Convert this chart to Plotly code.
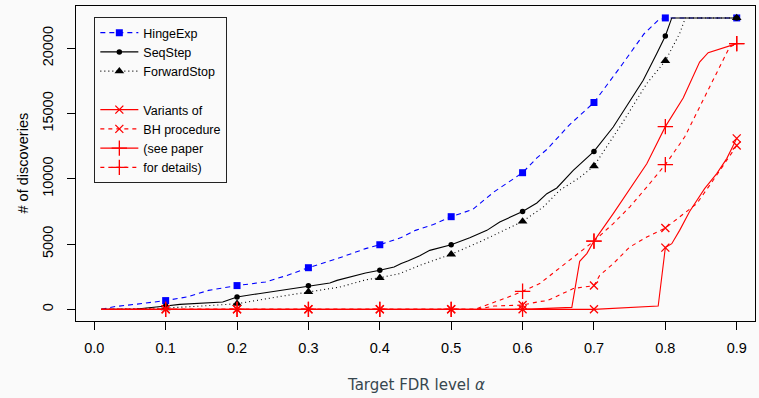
import plotly.graph_objects as go

# ---------------- data ----------------
marker_alphas = [0.1, 0.2, 0.3, 0.4, 0.5, 0.6, 0.7, 0.8, 0.9]
x_tick_vals = [0.0, 0.1, 0.2, 0.3, 0.4, 0.5, 0.6, 0.7, 0.8, 0.9]
x_tick_text = ["0.0", "0.1", "0.2", "0.3", "0.4", "0.5", "0.6", "0.7", "0.8", "0.9"]
y_tick_vals = [0, 5000, 10000, 15000, 20000]
y_tick_text = ["0", "5000", "10000", "15000", "20000"]

hinge_x = [0.01, 0.03, 0.06, 0.1, 0.13, 0.16, 0.2, 0.24, 0.27, 0.3, 0.34, 0.38, 0.4,
           0.43, 0.45, 0.475, 0.5, 0.53, 0.56, 0.6, 0.62, 0.635, 0.665, 0.7, 0.74,
           0.77, 0.79, 0.8, 0.85, 0.9]
hinge_y = [0, 220, 400, 670, 950, 1450, 1820, 2100, 2600, 3190, 3880, 4650, 4950,
           5500, 6050, 6500, 7100, 7650, 9000, 10470, 11600, 12300, 14100, 15850, 18800,
           21100, 22150, 22330, 22330, 22330]

seq_x = [0.01, 0.06, 0.1, 0.12, 0.18, 0.2, 0.23, 0.3, 0.33, 0.34, 0.38, 0.4, 0.42,
         0.43, 0.44, 0.456, 0.47, 0.5, 0.526, 0.55, 0.568, 0.6, 0.62, 0.634, 0.648,
         0.671, 0.7, 0.727, 0.769, 0.788, 0.8, 0.809, 0.9]
seq_y = [0, 30, 250, 380, 560, 940, 1200, 1800, 2020, 2220, 2780, 2990, 3240,
         3520, 3720, 4110, 4520, 4950, 5490, 6050, 6690, 7500, 8150, 8860, 9300,
         10650, 12100, 13970, 17550, 19600, 20950, 22330, 22330]

fwd_x = [0.01, 0.1, 0.15, 0.2, 0.255, 0.3, 0.344, 0.381, 0.4, 0.428, 0.456, 0.5,
         0.545, 0.6, 0.629, 0.652, 0.68, 0.7, 0.74, 0.774, 0.8, 0.82, 0.828, 0.9]
fwd_y = [0, 100, 250, 430, 940, 1340, 1710, 2270, 2420, 2740, 3370, 4220,
         5290, 6740, 7840, 9120, 10100, 10980, 14300, 17300, 19040, 21130, 22330, 22330]

bh1_x = [0.01, 0.1, 0.2, 0.3, 0.4, 0.5, 0.6, 0.7, 0.79, 0.8, 0.809, 0.82, 0.834,
         0.855, 0.872, 0.886, 0.9]
bh1_y = [0, 0, 0, 0, 0, 0, 0, 0, 250, 4730, 5030, 6050, 7500,
         9250, 10400, 11550, 13100]

bh2_x = [0.01, 0.1, 0.2, 0.3, 0.4, 0.5, 0.535, 0.56, 0.6, 0.624, 0.634, 0.671, 0.7,
         0.708, 0.727, 0.75, 0.774, 0.8, 0.82, 0.844, 0.867, 0.886, 0.9]
bh2_y = [0, 0, 0, 0, 0, 0, 0, 250, 330, 600, 650, 1590, 1820,
         2600, 3500, 4770, 5540, 6230, 7070, 8100, 9890, 11420, 12550]

bh3_x = [0.01, 0.1, 0.2, 0.3, 0.4, 0.5, 0.6, 0.669, 0.68, 0.69, 0.7, 0.727, 0.75,
         0.774, 0.8, 0.825, 0.848, 0.86, 0.9]
bh3_y = [0, 0, 0, 0, 0, 0, 0, 150, 3680, 4270, 5230, 7330, 9250,
         11160, 14000, 16200, 18950, 19670, 20360]

bh4_x = [0.01, 0.1, 0.2, 0.3, 0.4, 0.5, 0.533, 0.578, 0.6, 0.624, 0.648, 0.671, 0.69,
         0.7, 0.727, 0.75, 0.774, 0.8, 0.827, 0.86, 0.89, 0.9]
bh4_y = [0, 0, 0, 0, 0, 0, 0, 900, 1380, 1970, 2990, 4010, 4770,
         5230, 6570, 7840, 9370, 11090, 13200, 16800, 20100, 20360]

# ---------------- styling ----------------
BG = "#fafafa"
FONT = "Liberation Sans, Arial, Helvetica, sans-serif"

series = [
    dict(name="HingeExp", x=hinge_x, y=hinge_y, color="#0000ff", dash="5px,4px",
         symbol="square", size=7, lw=0),
    dict(name="SeqStep", x=seq_x, y=seq_y, color="#000000", dash="solid",
         symbol="circle", size=5.5, lw=0),
    dict(name="ForwardStop", x=fwd_x, y=fwd_y, color="#000000", dash="1px,3px",
         symbol="triangle-up", size=8.5, lw=0),
    dict(name=" ", x=None, y=None, color=BG, dash="solid", symbol="circle", size=0.1, lw=0),
    dict(name="Variants of", x=bh1_x, y=bh1_y, color="#ff0000", dash="solid",
         symbol="x-thin-open", size=8, lw=1.3),
    dict(name="BH procedure", x=bh2_x, y=bh2_y, color="#ff0000", dash="4px,4px",
         symbol="x-thin-open", size=8, lw=1.3),
    dict(name="(see paper", x=bh3_x, y=bh3_y, color="#ff0000", dash="solid",
         symbol="cross-thin-open", size=11, lw=1.3),
    dict(name="for details)", x=bh4_x, y=bh4_y, color="#ff0000", dash="4px,4px",
         symbol="cross-thin-open", size=11, lw=1.3),
]

fig = go.Figure()

for s in series:
    mk = dict(symbol=s["symbol"], size=s["size"], color=s["color"],
              line=dict(color=s["color"], width=s["lw"]))
    if s["x"] is not None:
        # the curve
        fig.add_trace(go.Scatter(x=s["x"], y=s["y"], mode="lines",
                                 line=dict(color=s["color"], width=1.1, dash=s["dash"]),
                                 showlegend=False, hoverinfo="skip"))
        # markers at alpha = 0.1, ..., 0.9
        mx = [xv for xv in s["x"] if round(xv, 3) in marker_alphas]
        my = [yv for xv, yv in zip(s["x"], s["y"]) if round(xv, 3) in marker_alphas]
        fig.add_trace(go.Scatter(x=mx, y=my, mode="markers", marker=mk,
                                 showlegend=False, hoverinfo="skip"))
    # legend-only entry
    fig.add_trace(go.Scatter(x=[None], y=[None], mode="lines+markers", name=s["name"],
                             line=dict(color=s["color"], width=1.1, dash=s["dash"]),
                             marker=mk, showlegend=True))

fig.update_layout(
    width=759, height=398,
    margin=dict(l=76, r=4, t=6, b=77),
    paper_bgcolor=BG, plot_bgcolor=BG,
    font=dict(family=FONT, size=14.5, color="#000000"),
    legend=dict(x=0.027, y=0.965, xanchor="left", yanchor="top",
                bgcolor=BG, bordercolor="#222222", borderwidth=1,
                font=dict(family=FONT, size=12.5, color="#000000"),
                itemwidth=38, tracegroupgap=0, traceorder="normal"),
    xaxis=dict(range=[-0.0256, 0.9256], tickvals=x_tick_vals, ticktext=x_tick_text,
               ticks="outside", ticklen=8, tickcolor="#000000", tickwidth=1,
               showline=True, linecolor="#000000", linewidth=1, mirror=True,
               showgrid=False, zeroline=False, ticklabelstandoff=6,
               tickfont=dict(family=FONT, size=14.5)),
    yaxis=dict(range=[-894, 23244], tickvals=y_tick_vals, ticktext=y_tick_text,
               ticks="outside", ticklen=8, tickcolor="#000000", tickwidth=1,
               showline=True, linecolor="#000000", linewidth=1, mirror=True,
               showgrid=False, zeroline=False, tickangle=-90, ticklabelstandoff=8,
               tickfont=dict(family=FONT, size=14.5)),
    annotations=[
        dict(text="Target FDR level <i>α</i>", xref="paper", yref="paper",
             x=0.5, y=-0.203, xanchor="center", yanchor="middle", showarrow=False,
             font=dict(family="DejaVu Sans, sans-serif", size=15, color="#37474f")),
        dict(text="# of discoveries", xref="paper", yref="paper",
             x=-0.0795, y=0.5, xanchor="center", yanchor="middle", textangle=-90,
             showarrow=False, font=dict(family=FONT, size=14.5, color="#000000")),
    ],
)

fig.write_html("out.html", config={"displayModeBar": False},
               post_script="document.body.style.margin='0px';document.body.style.background='%s';" % BG)
